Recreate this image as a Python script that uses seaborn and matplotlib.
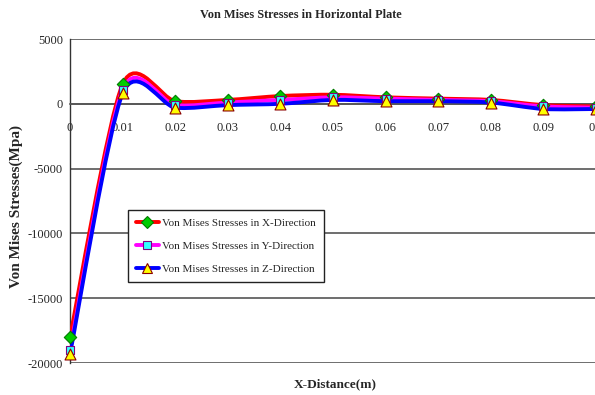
import numpy as np
import pandas as pd
import seaborn as sns
import matplotlib
matplotlib.use("Agg")
import matplotlib.pyplot as plt
from matplotlib.path import Path
from matplotlib.patches import PathPatch
from matplotlib.lines import Line2D

# Distance along the plate (m)
distance = [0.0, 0.01, 0.02, 0.03, 0.04, 0.05, 0.06, 0.07, 0.08, 0.09, 0.1]

# Von Mises stresses (MPa) in each direction
stress_x = [-18000, 1500, 200, 300, 600, 700, 500, 400, 300, -100, -200]
stress_y = [-19000, 1100, -100, 100, 300, 500, 400, 300, 200, -200, -300]
stress_z = [-19300, 800, -300, -100, 0, 300, 200, 200, 100, -400, -400]

series_names = [
    "Von Mises Stresses in X-Direction",
    "Von Mises Stresses in Y-Direction",
    "Von Mises Stresses in Z-Direction",
]
x_ticks = [0, 0.01, 0.02, 0.03, 0.04, 0.05, 0.06, 0.07, 0.08, 0.09, 0.1]
x_tick_labels = ["0", "0.01", "0.02", "0.03", "0.04", "0.05", "0.06", "0.07", "0.08", "0.09", "0.1"]
y_ticks = [5000, 0, -5000, -10000, -15000, -20000]

styles = [
    dict(line="#ff0000", marker="D", face="#00cc00", edge="#007a00", size=40),
    dict(line="#ff00ff", marker="s", face="#33ffff", edge="#800080", size=40),
    dict(line="#0000ff", marker="^", face="#ffff00", edge="#8b0000", size=62),
]

sns.set_theme(style="white")
plt.rcParams["font.family"] = ["Liberation Serif", "DejaVu Serif"]

fig = plt.figure(figsize=(5.95, 3.95), dpi=100)
ax = fig.add_axes([70 / 595, 32 / 395, 526 / 595, 324 / 395])


def smooth_path(xs, ys, k=0.135):
    """Cubic Bezier path through the points (Catmull-Rom style tangents)."""
    pts = np.column_stack([xs, ys]).astype(float)
    n = len(pts)
    verts = [pts[0]]
    codes = [Path.MOVETO]
    for i in range(n - 1):
        p0 = pts[i - 1] if i > 0 else pts[i]
        p1 = pts[i]
        p2 = pts[i + 1]
        p3 = pts[i + 2] if i + 2 < n else pts[i + 1]
        c1 = p1 + (p2 - p0) * k
        c2 = p2 - (p3 - p1) * k
        verts += [c1, c2, p2]
        codes += [Path.CURVE4] * 3
    return Path(verts, codes)


frames = []
for name, vals in zip(series_names, [stress_x, stress_y, stress_z]):
    frames.append(pd.DataFrame({"distance": distance, "stress": vals, "series": name}))
df = pd.concat(frames, ignore_index=True)

# Smoothed lines
for name, st in zip(series_names, styles):
    sub = df[df["series"] == name]
    patch = PathPatch(smooth_path(sub["distance"], sub["stress"]), facecolor="none",
                      edgecolor=st["line"], lw=2.8, zorder=3, capstyle="round",
                      joinstyle="round")
    ax.add_patch(patch)

# Markers on the data points
for name, st in zip(series_names, styles):
    sub = df[df["series"] == name]
    sns.scatterplot(data=sub, x="distance", y="stress", marker=st["marker"],
                    s=st["size"], color=st["face"], edgecolor=st["edge"],
                    linewidth=0.8, ax=ax, zorder=4, legend=False, clip_on=False)

ax.set_xlim(0, 0.1)
ax.set_ylim(-20000, 5000)

# Horizontal gridlines at each major y tick
for yv in y_ticks:
    ax.axhline(yv, color="#555555", lw=1.2, zorder=1)

ax.spines["top"].set_visible(False)
ax.spines["right"].set_visible(False)
ax.spines["bottom"].set_position(("data", 0))
ax.spines["bottom"].set_color("#555555")
ax.spines["bottom"].set_linewidth(1.2)
ax.spines["left"].set_color("#333333")
ax.spines["left"].set_linewidth(1.0)

ax.set_xticks(x_ticks)
ax.set_xticklabels(x_tick_labels)
ax.set_yticks(y_ticks)
ax.set_yticklabels([str(v) for v in y_ticks])
ax.tick_params(axis="x", direction="out", length=4, width=1, color="#333333",
               labelsize=9, pad=9)
ax.tick_params(axis="y", direction="out", length=3, width=1, color="#333333",
               labelsize=9, pad=2)
ax.set_xlabel("")
ax.set_ylabel("")

fig.text(0.505, 0.963, "Von Mises Stresses in Horizontal Plate", ha="center",
         va="center", fontsize=8.8, fontweight="bold")
fig.text(0.564, 0.026, "X-Distance(m)", ha="center", va="center",
         fontsize=9.5, fontweight="bold")
fig.text(0.027, 0.476, "Von Mises Stresses(Mpa)", ha="center", va="center",
         rotation=90, fontsize=11, fontweight="bold")

handles = [
    Line2D([0], [0], color=st["line"], lw=2.8, marker=st["marker"],
           markerfacecolor=st["face"], markeredgecolor=st["edge"],
           markersize=6 if st["marker"] != "^" else 7.5, markeredgewidth=0.8)
    for st in styles
]
leg = ax.legend(handles, series_names, loc="upper left",
                bbox_to_anchor=((128 - 70) / 526, (395 - 210 - 32) / 324),
                fontsize=8, frameon=True, fancybox=False, framealpha=1,
                edgecolor="#222222", handlelength=2.1, handletextpad=0.3,
                borderpad=0.7, labelspacing=1.2, borderaxespad=0)
leg.get_frame().set_linewidth(1.0)
leg.set_zorder(5)

fig.savefig("out.png", dpi=100)
